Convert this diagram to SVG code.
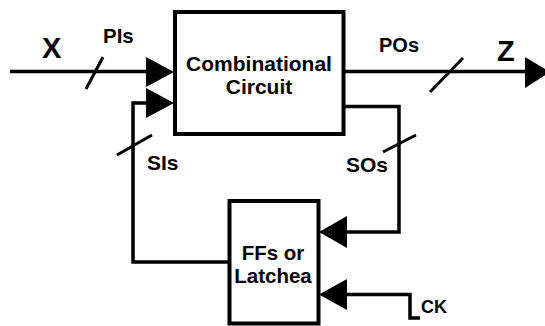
<svg xmlns="http://www.w3.org/2000/svg" width="545" height="326" viewBox="0 0 545 326">
<style>
.box{fill:#fff;stroke:#000;stroke-width:4}
.w{fill:none;stroke:#000;stroke-width:3.5}
.s{fill:none;stroke:#000;stroke-width:3}
.ah{fill:#000;stroke:none}
text{font-family:"Liberation Sans",Arial,sans-serif;font-weight:bold;fill:#000}
</style>
<g id="connectors">
<path class="w" d="M10 71.5 H150"/>
<path class="ah" d="M146 57 L174 72 L146 87 Z"/>
<path class="s" d="M86 89 L103 57"/>
<path class="w" d="M229 262 H133 V103 H150"/>
<path class="ah" d="M146 88 L174 103 L146 118 Z"/>
<path class="s" d="M117 155 L152 135"/>
<path class="w" d="M344 71.5 H528"/>
<path class="ah" d="M525 57 L550 72 L525 88 Z"/>
<path class="s" d="M430 92 L463 58"/>
<path class="w" d="M344 106.5 H399 V232 H344"/>
<path class="ah" d="M347 216 L319 232 L347 248 Z"/>
<path class="s" d="M383 152 L416 135"/>
<path class="w" d="M420 318 H410 V294.5 H344"/>
<path class="ah" d="M347 279 L319 294.5 L347 310 Z"/>
</g>
<g id="comb">
<rect class="box" x="175" y="12" width="168.5" height="122"/>
<text x="259" y="71" font-size="21" text-anchor="middle">Combinational</text>
<text x="259" y="94" font-size="21" text-anchor="middle">Circuit</text>
</g>
<g id="ff">
<rect class="box" x="229.5" y="201" width="89" height="122.5"/>
<text x="273" y="260" font-size="20.5" text-anchor="middle">FFs or</text>
<text x="273" y="283" font-size="20.5" text-anchor="middle">Latchea</text>
</g>
<g id="labels">
<text x="42" y="57.5" font-size="29">X</text>
<text x="103" y="43" font-size="20.5">PIs</text>
<text x="379" y="52" font-size="20">POs</text>
<text x="497" y="61" font-size="29">Z</text>
<text x="147" y="170" font-size="21">SIs</text>
<text x="346" y="172" font-size="21">SOs</text>
<text x="421" y="313" font-size="18">CK</text>
</g>
</svg>
